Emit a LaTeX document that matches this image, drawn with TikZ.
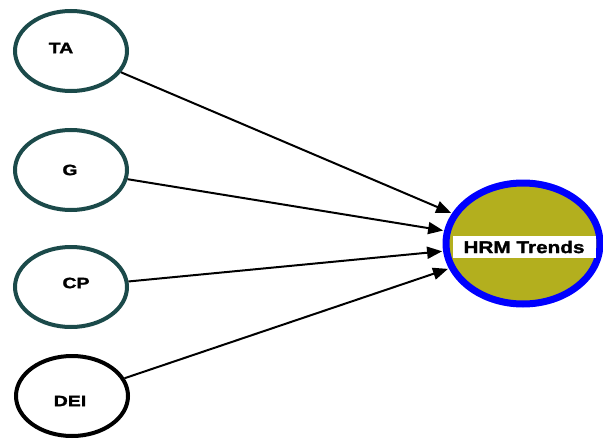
\documentclass[tikz,border=0pt]{standalone}
\usepackage{fontspec}
\newfontfamily\labfont[FakeStretch=1.3,FakeBold=1.5]{Liberation Sans}
\newfontfamily\hrmfont[FakeStretch=1.22,FakeBold=1.5]{Liberation Sans}
\usetikzlibrary{arrows.meta,shapes.geometric}
\definecolor{tealline}{HTML}{1B4A4A}
\definecolor{hrmfill}{HTML}{B3AF1E}
\tikzset{
  smallnode/.style={ellipse, draw=tealline, line width=4pt, fill=white,
    minimum width=112pt, minimum height=80pt, inner sep=0pt},
  deinode/.style={smallnode, draw=black},
  hrmnode/.style={ellipse, draw=blue, line width=7pt, fill=hrmfill,
    minimum width=154pt, minimum height=121pt, inner sep=0pt},
  lab/.style={font=\labfont\bfseries\fontsize{15pt}{17pt}\selectfont, inner sep=0pt},
  hrmlab/.style={font=\hrmfont\bfseries\fontsize{17pt}{19pt}\selectfont, fill=white,
    minimum width=143pt, minimum height=22pt, inner sep=0pt},
  conn/.style={line width=2pt, -{Triangle[length=15pt,width=12pt]}, shorten >=1pt}
}
\begin{document}
\begin{tikzpicture}[x=1pt,y=-1pt]
\useasboundingbox (0,0) rectangle (603,439);
\node[smallnode] (ta) at (71,51) {};
\node[smallnode] (g) at (71,170) {};
\node[smallnode] (cp) at (71,287) {};
\node[deinode] (dei) at (72,396) {};
\node[hrmnode] (hrm) at (523,243.5) {};
\node[lab] (talab) at (61,48) {TA};
\node[lab] (glab) at (70,170) {G};
\node[lab] (cplab) at (76,283) {CP};
\node[lab] (deilab) at (70,401) {DEI};
\node[hrmlab] (hrmlab) at (524,247) {HRM Trends};
\draw[conn] (ta) -- (hrm);
\draw[conn] (g) -- (hrm);
\draw[conn] (cp) -- (hrm);
\draw[conn] (dei) -- (hrm);
\end{tikzpicture}
\end{document}
